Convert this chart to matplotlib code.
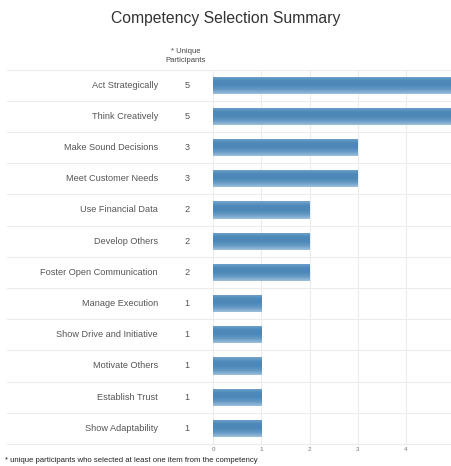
import numpy as np
import matplotlib.pyplot as plt
from matplotlib.colors import LinearSegmentedColormap

competencias = ['Act Strategically', 'Think Creatively', 'Make Sound Decisions',
                'Meet Customer Needs', 'Use Financial Data', 'Develop Others',
                'Foster Open Communication', 'Manage Execution',
                'Show Drive and Initiative', 'Motivate Others', 'Establish Trust',
                'Show Adaptability']
participantes = [5, 5, 3, 3, 2, 2, 2, 1, 1, 1, 1, 1]
ticks_x = [0, 1, 2, 3, 4]

plt.rcParams['font.family'] = ['Liberation Sans', 'DejaVu Sans']

fig = plt.figure(figsize=(4.51, 4.66), dpi=100)
ax = fig.add_axes([213 / 451, 1 - 444 / 466, 1 - 213 / 451, (444 - 69.5) / 466])

n = len(competencias)
y = np.arange(n)
barras = ax.barh(y, participantes, height=0.55, color='#4f8aba', zorder=3)

# degradado vertical dentro de cada barra
degradado = LinearSegmentedColormap.from_list(
    'barra', ['#9dbfdc', '#6499c4', '#4c87b7', '#4e89b9', '#75a5cc'])
grad = np.linspace(0, 1, 64).reshape(-1, 1)
for b in barras:
    x0, y0 = b.get_x(), b.get_y()
    w, h = b.get_width(), b.get_height()
    im = ax.imshow(grad, cmap=degradado, aspect='auto', zorder=4,
                   extent=(x0, x0 + w, y0, y0 + h), origin='upper')
    im.set_clip_path(b)

ax.set_xlim(0, 4.93)
ax.set_ylim(n - 0.5, -0.5)
ax.set_xticks(ticks_x)
ax.set_xticklabels([str(t) for t in ticks_x], fontsize=4.5, color='#777777')
ax.tick_params(axis='x', length=0, pad=2)
ax.set_yticks([])
ax.grid(axis='x', color='#ececec', linewidth=0.8, zorder=0)
for s in ax.spines.values():
    s.set_visible(False)

# separadores de fila a lo ancho de la figura
for i in range(n + 1):
    yb = i - 0.5
    yf = ax.transData.transform((0, yb))[1] / fig.bbox.height
    fig.add_artist(plt.Line2D([7 / 451, 1], [yf, yf], color='#ececec',
                              linewidth=0.8, transform=fig.transFigure))

for i, (nombre, valor) in enumerate(zip(competencias, participantes)):
    yf = ax.transData.transform((0, i))[1] / fig.bbox.height
    fig.text(158 / 451, yf, nombre, ha='right', va='center',
             fontsize=6.6, color='#555555')
    fig.text(187 / 451, yf, str(valor), ha='center', va='center',
             fontsize=6.6, color='#555555')

fig.text(0.5, 1 - 18 / 466, 'Competency Selection Summary', ha='center',
         va='center', fontsize=11.3, color='#333333')
fig.text(186 / 451, 1 - 56 / 466, '* Unique\nParticipants', ha='center',
         va='center', fontsize=5.5, color='#444444', linespacing=1.3)
fig.text(5 / 451, 1 - 461 / 466,
         '* unique participants who selected at least one item from the competency',
         ha='left', va='center', fontsize=5.6, color='#222222')

fig.savefig('out.png', dpi=100)
